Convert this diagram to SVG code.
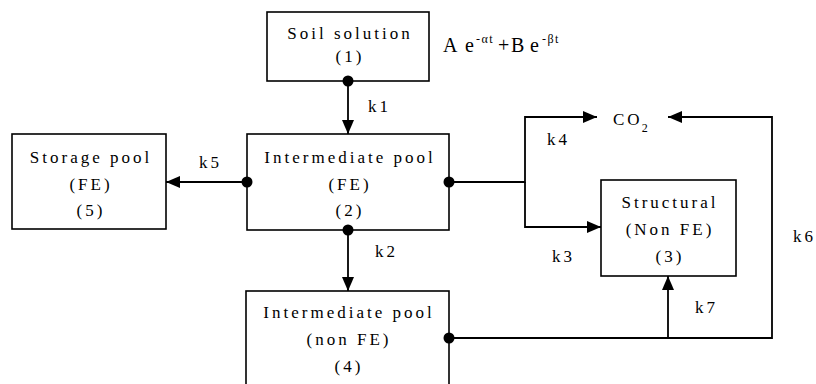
<svg xmlns="http://www.w3.org/2000/svg" width="816" height="384" viewBox="0 0 816 384" font-family="Liberation Serif, serif">
<defs>
<marker id="ah" markerUnits="userSpaceOnUse" markerWidth="14" markerHeight="12" refX="14" refY="6" orient="auto">
<path d="M0,0 L14,6 L0,12 z" fill="#000"/>
</marker>
</defs>
<style>
.box{fill:#fff;stroke:#000;stroke-width:1.6}
.t{font-size:17px;letter-spacing:3px;fill:#000;text-anchor:middle}
.k{font-size:17px;letter-spacing:3px;fill:#000}
.ln{fill:none;stroke:#000;stroke-width:1.8}
.dot{fill:#000}
.f{fill:#000}
</style>
<rect width="816" height="384" fill="#fff"/>

<g id="node1">
<rect class="box" x="267" y="12" width="162" height="69"/>
<text class="t" x="350" y="39">Soil solution</text>
<text class="t" x="350" y="62">(1)</text>
</g>

<g id="formula">
<text class="f" y="52"><tspan x="443" font-size="20">A</tspan><tspan x="465" font-size="20">e</tspan><tspan x="476" y="43" font-size="12" letter-spacing="1.5">-αt</tspan><tspan x="498" y="52" font-size="20">+</tspan><tspan x="511" font-size="20">B</tspan><tspan x="530" font-size="20">e</tspan><tspan x="542" y="43" font-size="12" letter-spacing="1.5">-βt</tspan></text>
</g>

<g id="node2">
<rect class="box" x="247" y="134" width="202" height="96"/>
<text class="t" x="350" y="163">Intermediate pool</text>
<text class="t" x="350" y="190">(FE)</text>
<text class="t" x="350" y="216">(2)</text>
</g>

<g id="node5">
<rect class="box" x="12" y="134" width="154" height="95"/>
<text class="t" x="91" y="163">Storage pool</text>
<text class="t" x="91" y="190">(FE)</text>
<text class="t" x="91" y="216">(5)</text>
</g>

<g id="node3">
<rect class="box" x="601" y="180" width="135" height="96"/>
<text class="t" x="670" y="208">Structural</text>
<text class="t" x="670" y="235">(Non FE)</text>
<text class="t" x="670" y="262">(3)</text>
</g>

<g id="node4">
<rect class="box" x="246" y="291" width="203" height="104"/>
<text class="t" x="349" y="318">Intermediate pool</text>
<text class="t" x="349" y="345">(non FE)</text>
<text class="t" x="349" y="372">(4)</text>
</g>

<g id="co2">
<text class="k" x="613" y="125">CO<tspan font-size="12" y="132" dx="-1">2</tspan></text>
</g>

<g id="connectors">
<path class="ln" d="M348,81 V134" marker-end="url(#ah)"/>
<path class="ln" d="M247,182 H166" marker-end="url(#ah)"/>
<path class="ln" d="M348,230 V291" marker-end="url(#ah)"/>
<path class="ln" d="M449,182 H525 V117 H597" marker-end="url(#ah)"/>
<path class="ln" d="M525,182 V227 H601" marker-end="url(#ah)"/>
<path class="ln" d="M449,338 H668 V276" marker-end="url(#ah)"/>
<path class="ln" d="M668,338 H772 V117 H668" marker-end="url(#ah)"/>
<circle class="dot" cx="348" cy="81" r="5.5"/>
<circle class="dot" cx="247" cy="182" r="5.5"/>
<circle class="dot" cx="348" cy="230" r="5.5"/>
<circle class="dot" cx="449" cy="182" r="5.5"/>
<circle class="dot" cx="449" cy="338" r="5.5"/>
<text class="k" x="368" y="112">k1</text>
<text class="k" x="199" y="168">k5</text>
<text class="k" x="375" y="257">k2</text>
<text class="k" x="547" y="145">k4</text>
<text class="k" x="552" y="262">k3</text>
<text class="k" x="793" y="242">k6</text>
<text class="k" x="695" y="313">k7</text>
</g>
</svg>
